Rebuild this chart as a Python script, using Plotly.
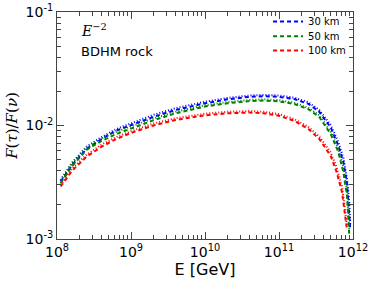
import plotly.graph_objects as go

# ---- data ----
E_30 = [1.12e8, 1.6e8, 2.5e8, 4e8, 6.3e8, 1e9, 2e9, 4e9, 1e10, 2e10, 4e10, 6.3e10, 1e11,
        1.6e11, 2.5e11, 3.5e11, 5e11, 6.3e11, 7.4e11, 8.3e11, 8.9e11, 9.2e11]
F_30_dash = [0.0032, 0.0045, 0.0062, 0.0076, 0.0090, 0.0101, 0.0119, 0.0137, 0.0157, 0.0170,
             0.0179, 0.0181, 0.0179, 0.0171, 0.0155, 0.0132, 0.0096, 0.0067, 0.0048, 0.0031,
             0.0018, 0.0012]
F_30_dot = [0.0033, 0.0047, 0.0065, 0.0079, 0.0093, 0.0105, 0.0124, 0.0142, 0.0162, 0.0175,
            0.0184, 0.0186, 0.0184, 0.0176, 0.0160, 0.0137, 0.0101, 0.0072, 0.0052, 0.0034,
            0.0021, 0.0013]

E_50 = [1.12e8, 1.6e8, 2.5e8, 4e8, 6.3e8, 1e9, 2e9, 4e9, 1e10, 2e10, 4e10, 6.3e10, 1e11,
        1.6e11, 2.5e11, 3.5e11, 5e11, 6.3e11, 7.4e11, 8.3e11, 8.6e11, 8.9e11]
F_50_dash = [0.0031, 0.0044, 0.0061, 0.0073, 0.0084, 0.0094, 0.0111, 0.0128, 0.0147, 0.0157,
             0.0164, 0.0166, 0.0163, 0.0155, 0.0139, 0.0119, 0.0084, 0.0059, 0.0039, 0.0024,
             0.0015, 0.0011]
F_50_dot = [0.0033, 0.0047, 0.0064, 0.0077, 0.0088, 0.0098, 0.0115, 0.0132, 0.0151, 0.0161,
            0.0168, 0.0170, 0.0167, 0.0159, 0.0143, 0.0123, 0.0088, 0.0063, 0.0043, 0.0027,
            0.0018, 0.0012]

E_100 = [1.12e8, 1.6e8, 2.5e8, 4e8, 6.3e8, 1e9, 2e9, 4e9, 1e10, 2e10, 4e10, 6.3e10, 1e11,
         1.6e11, 2.5e11, 3.5e11, 5e11, 6e11, 7.1e11, 7.8e11, 8.3e11]
F_100_dash = [0.0029, 0.0040, 0.0053, 0.0065, 0.0076, 0.0086, 0.0100, 0.0112, 0.0123, 0.0128,
              0.0130, 0.0128, 0.0122, 0.0110, 0.0093, 0.0076, 0.0054, 0.0039, 0.0026, 0.0017,
              0.0012]
F_100_dot = [0.0030, 0.0042, 0.0055, 0.0068, 0.0079, 0.0089, 0.0104, 0.0116, 0.0127, 0.0132,
             0.0134, 0.0132, 0.0126, 0.0114, 0.0097, 0.0080, 0.0058, 0.0043, 0.0029, 0.0019,
             0.0013]

labels = ["30 km", "50 km", "100 km"]
colors = ["#0000ff", "#008000", "#ff0000"]

x_tickvals = [1e8, 1e9, 1e10, 1e11, 1e12]
x_ticktext = ["10<sup>8</sup>", "10<sup>9</sup>", "10<sup>10</sup>", "10<sup>11</sup>", "10<sup>12</sup>"]
y_tickvals = [1e-3, 1e-2, 1e-1]
y_ticktext = ["10<sup>-3</sup>", "10<sup>-2</sup>", "10<sup>-1</sup>"]

x_minor = [m * 10 ** d for d in range(8, 12) for m in range(2, 10)]
y_minor = [m * 10 ** d for d in range(-3, -1) for m in range(2, 10)]

legend_names = ["legend", "legend2", "legend3"]
legend_y = [0.958, 0.893, 0.830]

fig = go.Figure()
series = [(E_30, F_30_dash, F_30_dot), (E_50, F_50_dash, F_50_dot), (E_100, F_100_dash, F_100_dot)]
for (E, fd, fo), lab, col, lg in zip(series, labels, colors, legend_names):
    fig.add_trace(go.Scatter(x=E, y=fo, mode="lines", showlegend=False,
                             line=dict(color=col, width=2, dash="1px,2px")))
    fig.add_trace(go.Scatter(x=E, y=fd, mode="lines", name=lab, legend=lg,
                             line=dict(color=col, width=2, dash="4px,3px")))

axis_common = dict(showline=True, linecolor="#444", linewidth=1, mirror="allticks",
                   ticks="inside", ticklen=7, tickcolor="#444", showgrid=False, zeroline=False,
                   automargin=False,
                   tickfont=dict(family="DejaVu Sans", size=14, color="black"))

fig.update_xaxes(type="log", range=[8, 12], tickvals=x_tickvals, ticktext=x_ticktext,
                 minor=dict(tickvals=x_minor, ticks="inside", ticklen=4, tickcolor="#444"),
                 title=dict(text="E [GeV]", font=dict(family="DejaVu Sans", size=16, color="black"),
                            standoff=3),
                 **axis_common)
fig.update_yaxes(type="log", range=[-3, -1], tickvals=y_tickvals, ticktext=y_ticktext,
                 minor=dict(tickvals=y_minor, ticks="inside", ticklen=4, tickcolor="#444"),
                 title=dict(text="<i>F</i>(<i>τ</i>)/<i>F</i>(<i>ν</i>)",
                            font=dict(family="DejaVu Serif", size=15, color="black"), standoff=4),
                 **axis_common)

fig.add_annotation(xref="paper", yref="paper", x=0.075, y=0.92, xanchor="left", yanchor="middle",
                   text="<i>E</i><sup>−2</sup>", showarrow=False,
                   font=dict(family="DejaVu Serif", size=14, color="black"))
fig.add_annotation(xref="paper", yref="paper", x=0.075, y=0.824, xanchor="left", yanchor="middle",
                   text="BDHM rock", showarrow=False,
                   font=dict(family="DejaVu Sans", size=13, color="black"))

leg_common = dict(x=0.713, xanchor="left", yanchor="middle",
                  font=dict(family="DejaVu Sans", size=10, color="black"),
                  bgcolor="rgba(0,0,0,0)", itemwidth=30)
fig.update_layout(
    width=374, height=284,
    margin=dict(l=57, r=21, t=12, b=45, autoexpand=False),
    paper_bgcolor="white", plot_bgcolor="white",
    legend=dict(y=legend_y[0], **leg_common),
    legend2=dict(y=legend_y[1], **leg_common),
    legend3=dict(y=legend_y[2], **leg_common),
)

fig.write_html("out.html", config={"displayModeBar": False},
               post_script="document.body.style.margin='0px';")
